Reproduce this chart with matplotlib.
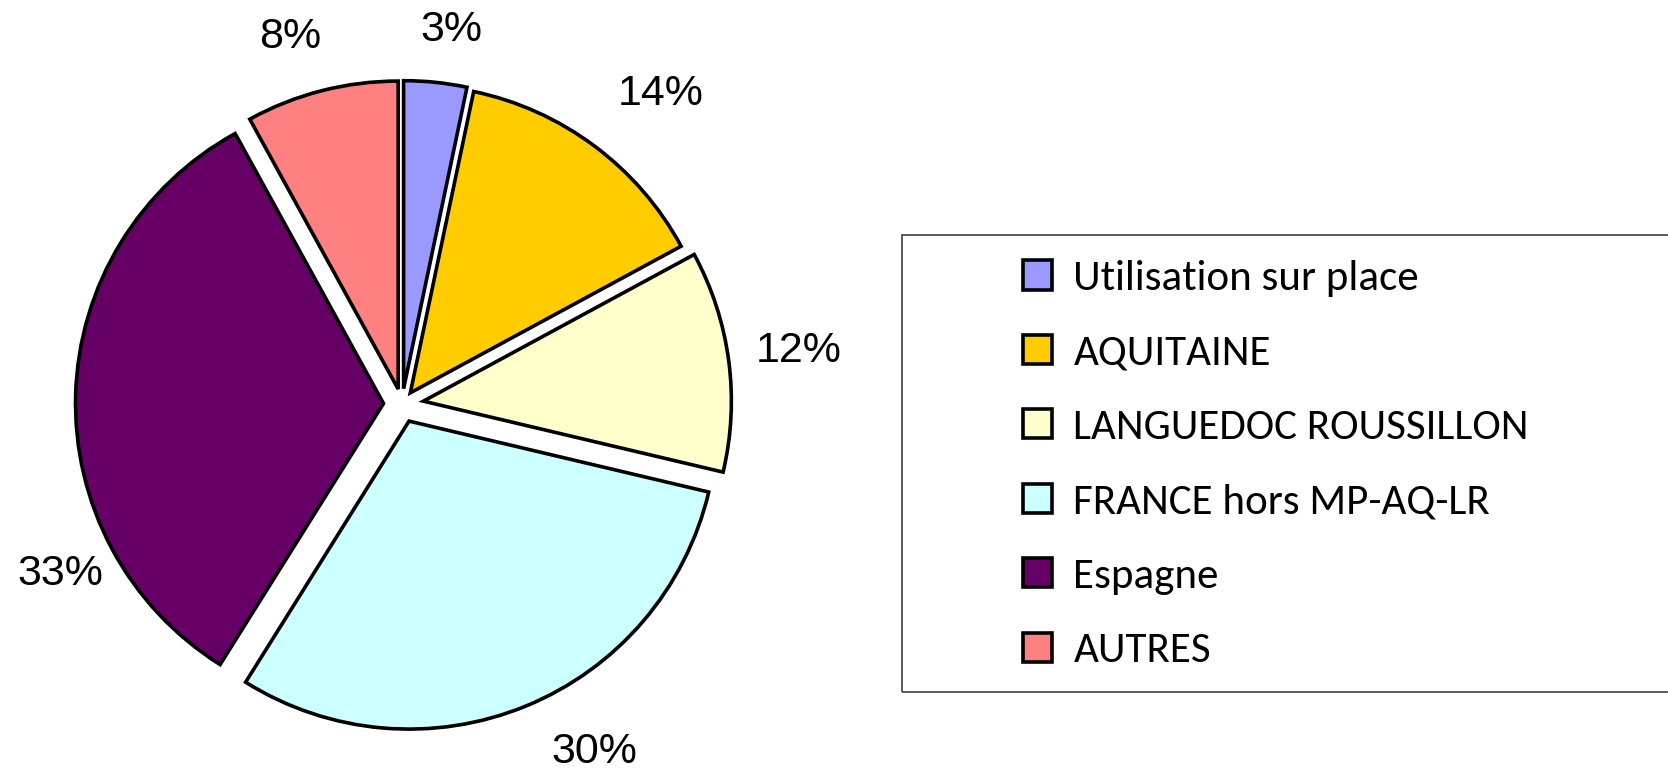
import matplotlib
matplotlib.use("Agg")
import matplotlib.pyplot as plt
from matplotlib import font_manager
from matplotlib.patches import Rectangle
import numpy as np

# data (share of volume, %)
categories = ["Utilisation sur place", "AQUITAINE", "LANGUEDOC ROUSSILLON",
              "FRANCE hors MP-AQ-LR", "Espagne", "AUTRES"]
shares = [3.3, 13.8, 11.6, 30.2, 33.1, 8.0]
colors = ["#9999FF", "#FFCC00", "#FFFFCC", "#CCFFFF", "#660066", "#FF8080"]
explode = [0.05, 0.045, 0.07, 0.06, 0.06, 0.05]

# label placement (angle clockwise from 12 o'clock, distance in radii)
label_angle = [7.6, 39.8, 82.4, 151.0, 243.5, -17.0]
label_dist = [1.225, 1.31, 1.30, 1.29, 1.24, 1.246]


def pick_font(names):
    for n in names:
        try:
            font_manager.findfont(n, fallback_to_default=False)
            return n
        except Exception:
            pass
    return "DejaVu Sans"


label_font = pick_font(["Liberation Sans", "Arial"])
legend_font = pick_font(["Carlito", "Calibri", "Liberation Sans"])

W, H = 1668, 775
fig = plt.figure(figsize=(W / 100, H / 100), dpi=100)

# pie centre and radius in pixels
cx, cy, R = 402, 775 - 404, 308
L = 1.5
ax = fig.add_axes([(cx - L * R) / W, (cy - L * R) / H, 2 * L * R / W, 2 * L * R / H])

wedges, _ = ax.pie(shares, colors=colors, explode=explode, startangle=90,
                   counterclock=False,
                   wedgeprops=dict(edgecolor="black", linewidth=2.6))
ax.set_xlim(-L, L)
ax.set_ylim(-L, L)
ax.set_aspect("auto")
ax.axis("off")

for v, a, d in zip(shares, label_angle, label_dist):
    t = np.deg2rad(a)
    ax.text(d * np.sin(t), d * np.cos(t), "%d%%" % round(v),
            ha="center", va="center", fontsize=31, family=label_font)

# legend box
fig.patches.append(Rectangle((902 / W, 1 - 692 / H), (W - 902 + 5) / W, (692 - 235) / H,
                             transform=fig.transFigure, fill=False,
                             edgecolor="#404040", linewidth=1.2))
leg = fig.legend(wedges, categories, loc="upper left",
                 bbox_to_anchor=(1023 / W, 1 - 260 / H),
                 frameon=False, borderpad=0, borderaxespad=0,
                 handlelength=0.67, handleheight=0.67, handletextpad=0.5,
                 labelspacing=0.87, prop=dict(family=legend_font, size=31))

fig.savefig("out.png", dpi=100)
